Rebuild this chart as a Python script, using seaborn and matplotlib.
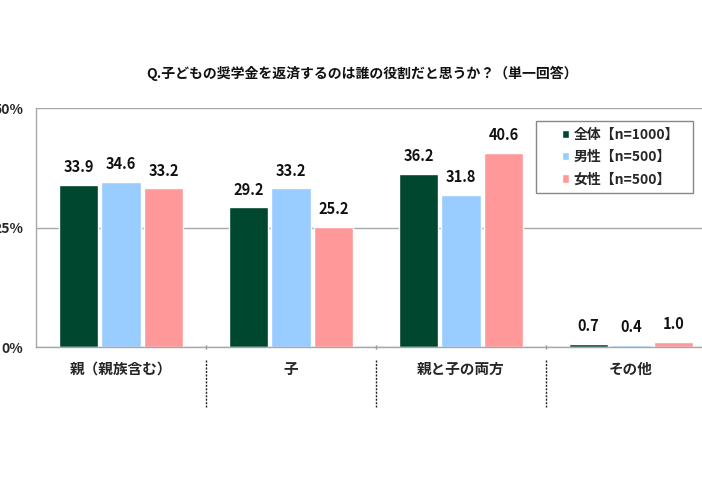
import matplotlib
matplotlib.use("Agg")
import matplotlib.pyplot as plt
import matplotlib.transforms as mtransforms
from matplotlib.patches import Rectangle
import seaborn as sns
import pandas as pd

categories = ["親（親族含む）", "子", "親と子の両方", "その他"]
groups = ["全体【n=1000】", "男性【n=500】", "女性【n=500】"]
values_all = [33.9, 29.2, 36.2, 0.7]
values_male = [34.6, 33.2, 31.8, 0.4]
values_female = [33.2, 25.2, 40.6, 1.0]
colors = ["#00472F", "#99CCFF", "#FF9999"]
yticks = [0, 25, 50]
ytick_labels = ["0%", "25%", "50%"]
title = "Q.子どもの奨学金を返済するのは誰の役割だと思うか？（単一回答）"

rows = []
for g, vals in zip(groups, [values_all, values_male, values_female]):
    for c, v in zip(categories, vals):
        rows.append({"category": c, "group": g, "value": v})
df = pd.DataFrame(rows)

sns.set_theme(style="white")
plt.rcParams["font.family"] = ["Noto Sans CJK JP", "DejaVu Sans"]

fig = plt.figure(figsize=(7.02, 4.86), dpi=100)
W, H = 702, 486
ax = fig.add_axes([36 / W, (H - 347) / H, 680 / W, 239 / H])

sns.barplot(data=df, x="category", y="value", hue="group", palette=colors,
            width=0.75, gap=0.08, ax=ax, saturation=1, legend=True)

for cont in ax.containers:
    ax.bar_label(cont, fmt="%.1f", padding=7, fontsize=10.5, fontweight="bold",
                 color="#111111")

ax.set_ylim(0, 50)
ax.set_xlim(-0.5, 3.5)
ax.set_yticks(yticks)
ax.set_yticklabels(ytick_labels, fontsize=10, fontweight="bold")
ax.yaxis.grid(True, color="#A8A8A8", linewidth=1)
ax.set_axisbelow(True)
ax.set_xlabel("")
ax.set_ylabel("")
ax.set_xticks(range(len(categories)))
ax.set_xticklabels(categories, fontsize=10.5, fontweight="bold")
ax.tick_params(axis="x", which="major", length=0, pad=10)
ax.set_xticks([0.5, 1.5, 2.5], minor=True)
ax.tick_params(axis="x", which="minor", length=3, color="#888888", direction="inout", bottom=True)
ax.tick_params(axis="y", length=0, pad=9)

for s in ["top", "right"]:
    ax.spines[s].set_visible(False)
for s in ["left", "bottom"]:
    ax.spines[s].set_color("#A8A8A8")
    ax.spines[s].set_linewidth(1)

trans = mtransforms.blended_transform_factory(ax.transData, ax.transAxes)
for xb in [0.5, 1.5, 2.5]:
    ax.plot([xb, xb], [-0.055, -0.25], transform=trans, clip_on=False,
            color="#222222", linestyle=(0, (1.5, 1.0)), linewidth=1.0)

leg = ax.legend(loc="upper left", bbox_to_anchor=(552 / W, 1 - 118 / H),
                bbox_transform=fig.transFigure, frameon=False,
                handlelength=0.55, handleheight=0.55, handletextpad=0.3,
                labelspacing=0.6, borderpad=0.2,
                prop={"weight": "bold", "size": 10})
fig.patches.append(Rectangle((536 / W, 1 - 193 / H), (693 - 536) / W, 72 / H,
                             transform=fig.transFigure, fill=False,
                             edgecolor="#888888", linewidth=1))

fig.text(362 / W, 1 - 73 / H, title, ha="center", va="center",
         fontsize=10, fontweight="bold", color="#111111")

fig.savefig("out.png", dpi=100)
